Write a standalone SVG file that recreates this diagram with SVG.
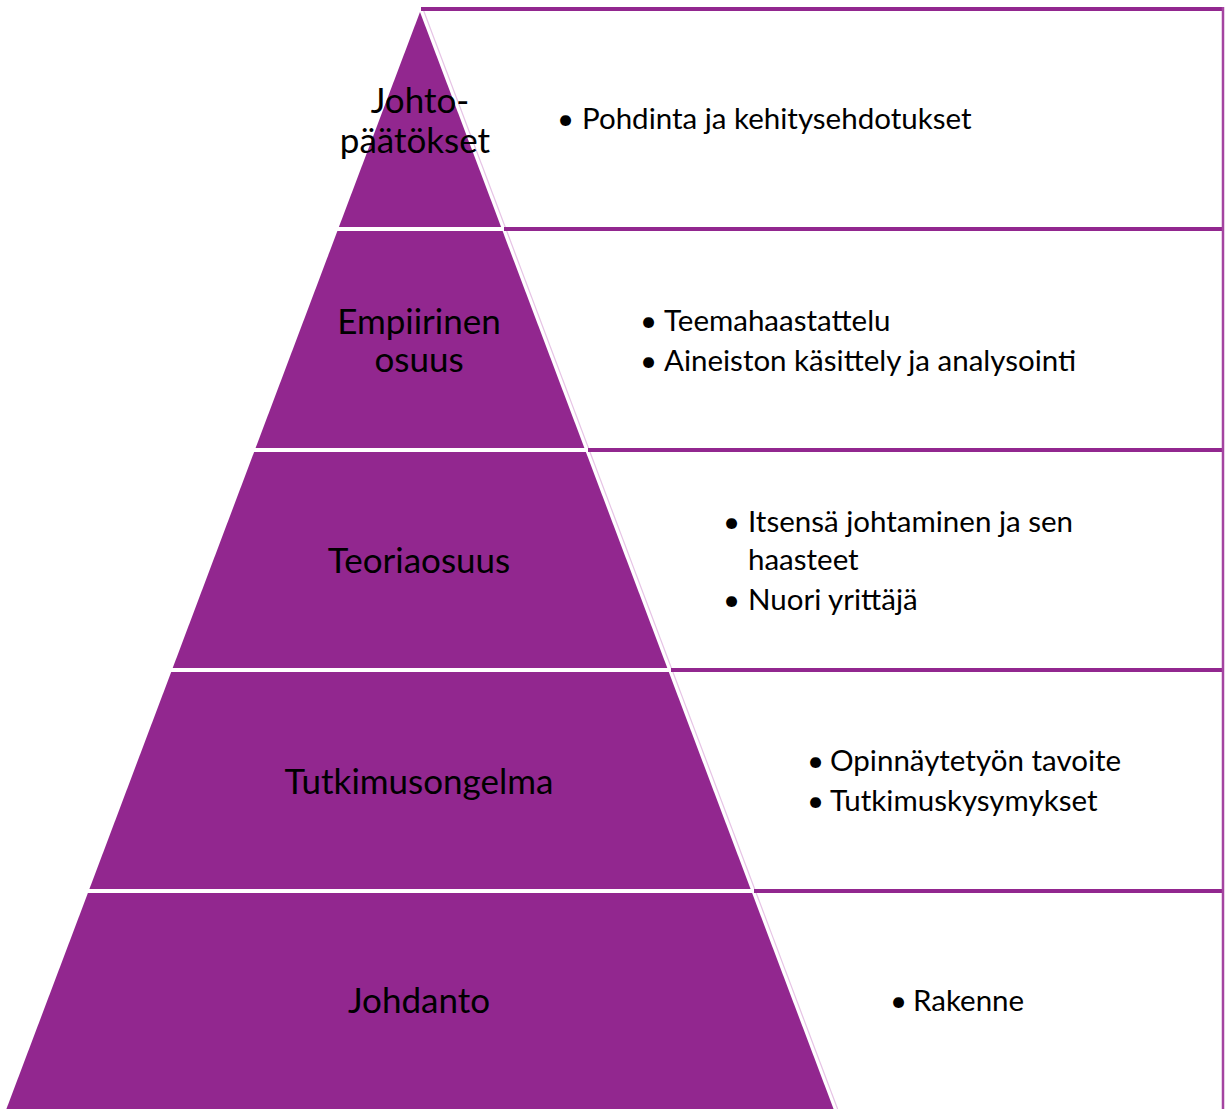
<svg xmlns="http://www.w3.org/2000/svg" width="1225" height="1109" viewBox="0 0 1225 1109">
<style>
.lvl{fill:#92278F;}
.lbl{font-family:Lato,"Liberation Sans",sans-serif;font-size:35px;fill:#000;text-anchor:middle;}
.txt{font-family:Lato,"Liberation Sans",sans-serif;font-size:29.5px;fill:#000;}
.sep{stroke:#92278F;stroke-width:4;fill:none;}
.box{fill:#fff;stroke:none;}
</style>
<rect width="1225" height="1109" fill="#fff"/>
<g id="boxes">
<g id="box1"><polygon class="box" points="423,9 1223,9 1223,229 505.8,229"/>
<text class="txt" x="557" y="129">•</text><text class="txt" x="582" y="129">Pohdinta ja kehitysehdotukset</text></g>
<g id="box2"><polygon class="box" points="505.8,229 1223,229 1223,450 589.1,450"/>
<text class="txt" x="640" y="331">•</text><text class="txt" x="664" y="331">Teemahaastattelu</text>
<text class="txt" x="640" y="371">•</text><text class="txt" x="664" y="371">Aineiston käsittely ja analysointi</text></g>
<g id="box3"><polygon class="box" points="589.1,450 1223,450 1223,670 672.1,670"/>
<text class="txt" x="723" y="532">•</text><text class="txt" x="748" y="532">Itsensä johtaminen ja sen</text>
<text class="txt" x="748" y="570">haasteet</text>
<text class="txt" x="723" y="610">•</text><text class="txt" x="748" y="610">Nuori yrittäjä</text></g>
<g id="box4"><polygon class="box" points="672.1,670 1223,670 1223,891 755.4,891"/>
<text class="txt" x="807" y="771">•</text><text class="txt" x="830" y="771">Opinnäytetyön tavoite</text>
<text class="txt" x="807" y="811">•</text><text class="txt" x="830" y="811">Tutkimuskysymykset</text></g>
<g id="box5"><polygon class="box" points="755.4,891 1223,891 1223,1109 837.6,1109"/>
<text class="txt" x="890" y="1011">•</text><text class="txt" x="913" y="1011">Rakenne</text></g>
</g>
<g id="connectors">
<line x1="423" y1="9" x2="837.6" y2="1109" stroke="#E6C3E5" stroke-width="1.2"/>
<line class="sep" x1="421" y1="9" x2="1224" y2="9"/>
<line class="sep" x1="504" y1="229" x2="1224" y2="229"/>
<line class="sep" x1="588" y1="450" x2="1224" y2="450"/>
<line class="sep" x1="671" y1="670" x2="1224" y2="670"/>
<line class="sep" x1="754" y1="891" x2="1224" y2="891"/>
<line x1="1223" y1="7" x2="1223" y2="1109" stroke="#A444A1" stroke-width="2.5"/>
</g>
<g id="pyramid">
<g id="lvl1"><polygon class="lvl" points="420,12 501.1,227 338.9,227"/>
<text class="lbl" x="420" y="113">Johto-</text><text class="lbl" x="415" y="153">päätökset</text></g>
<g id="lvl2"><polygon class="lvl" points="337.4,231 502.6,231 584.4,448 255.6,448"/>
<text class="lbl" x="419" y="334">Empiirinen</text><text class="lbl" x="419" y="372">osuus</text></g>
<g id="lvl3"><polygon class="lvl" points="254.1,452 585.9,452 667.3,668 172.7,668"/>
<text class="lbl" x="419" y="573">Teoriaosuus</text></g>
<g id="lvl4"><polygon class="lvl" points="171.2,672 668.8,672 750.6,889 89.4,889"/>
<text class="lbl" x="419" y="794">Tutkimusongelma</text></g>
<g id="lvl5"><polygon class="lvl" points="87.9,893 752.1,893 833.6,1109 6.4,1109"/>
<text class="lbl" x="419" y="1013">Johdanto</text></g>
</g>
</svg>
